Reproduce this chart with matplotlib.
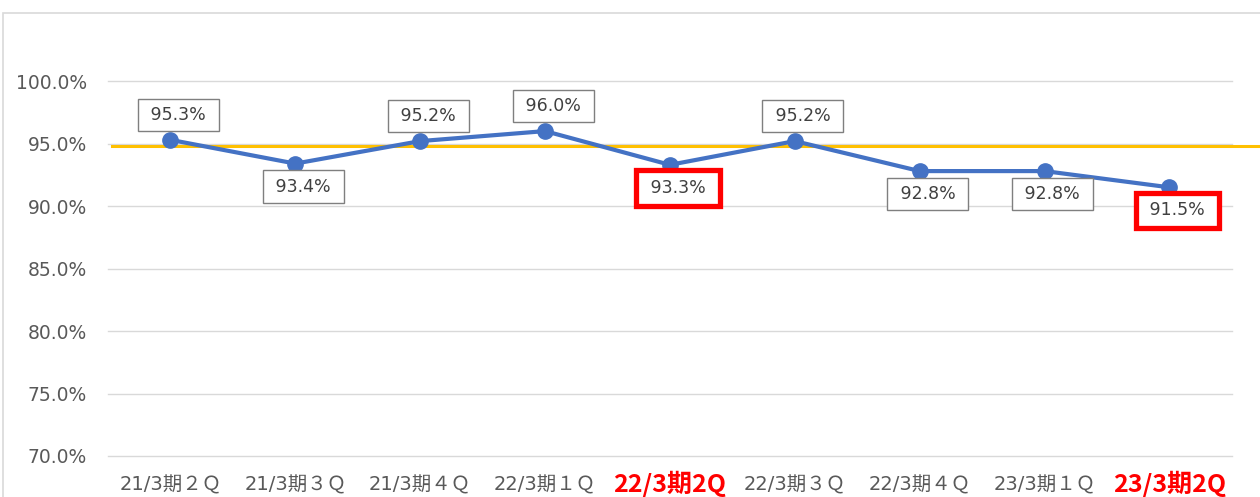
import matplotlib
matplotlib.use("Agg")
import matplotlib.pyplot as plt
from matplotlib.patches import Rectangle

plt.rcParams['font.family'] = ['DejaVu Sans', 'Noto Sans CJK JP']

# data
quarters = ["21/3期２Ｑ", "21/3期３Ｑ", "21/3期４Ｑ", "22/3期１Ｑ", "22/3期2Q",
            "22/3期３Ｑ", "22/3期４Ｑ", "23/3期１Ｑ", "23/3期2Q"]
rates = [95.3, 93.4, 95.2, 96.0, 93.3, 95.2, 92.8, 92.8, 91.5]
label_above = [True, False, True, True, False, True, False, False, False]
highlight = [False, False, False, False, True, False, False, False, True]
target = 94.8
y_ticks = [70, 75, 80, 85, 90, 95, 100]

fig = plt.figure(figsize=(12.6, 4.97), dpi=100)
ax = fig.add_axes([0.0857, 0.0825, 0.892, 0.88])

# outer chart frame
fig.patches.append(Rectangle((3 / 1260, -0.01), 1.1, 1 - 13 / 497 + 0.01,
                             transform=fig.transFigure, fill=False,
                             edgecolor="#D9D9D9", linewidth=1.2))

x = list(range(len(quarters)))
ax.axhline(target, xmin=0.004, xmax=1.025, color="#FFC000", linewidth=2.2,
           clip_on=False, zorder=2)
ax.plot(x, rates, color="#4472C4", linewidth=3, marker="o", markersize=11,
        zorder=3, clip_on=False)

for i, v in enumerate(rates):
    dy = 25 if label_above[i] else -23
    box = dict(boxstyle="square,pad=0.42", facecolor="white",
               edgecolor="#7F7F7F", linewidth=1)
    if highlight[i]:
        box = dict(boxstyle="square,pad=0.5", facecolor="white",
                   edgecolor="#FF0000", linewidth=3.8)
    ax.annotate(f" {v:.1f}% ", (i, v), xytext=(8, dy), textcoords="offset pixels",
                ha="center", va="center", fontsize=12.5, color="#404040",
                family=["DejaVu Sans"], bbox=box, zorder=4)

ax.set_xlim(-0.5, len(quarters) - 0.5)
ax.set_ylim(70, 105)
ax.set_yticks(y_ticks)
ax.set_yticklabels([f"{t:.1f}%" for t in y_ticks])
ax.set_xticks(x)
ax.set_xticklabels(quarters)
ax.grid(axis="y", color="#D9D9D9", linewidth=1)
for gl in ax.get_ygridlines():
    gl.set_clip_on(False)
ax.set_axisbelow(True)
for s in ax.spines.values():
    s.set_visible(False)
ax.tick_params(length=0, colors="#595959")
ax.tick_params(axis="y", labelsize=13.5, pad=15)
ax.tick_params(axis="x", labelsize=14, pad=14)

for lbl, hl in zip(ax.get_xticklabels(), highlight):
    if hl:
        lbl.set_family(['Noto Sans CJK JP'])
        lbl.set_color("#FF0000")
        lbl.set_fontsize(18)
        lbl.set_fontweight("bold")
        lbl.set_y(0.01)

fig.savefig("out.png", dpi=100)
